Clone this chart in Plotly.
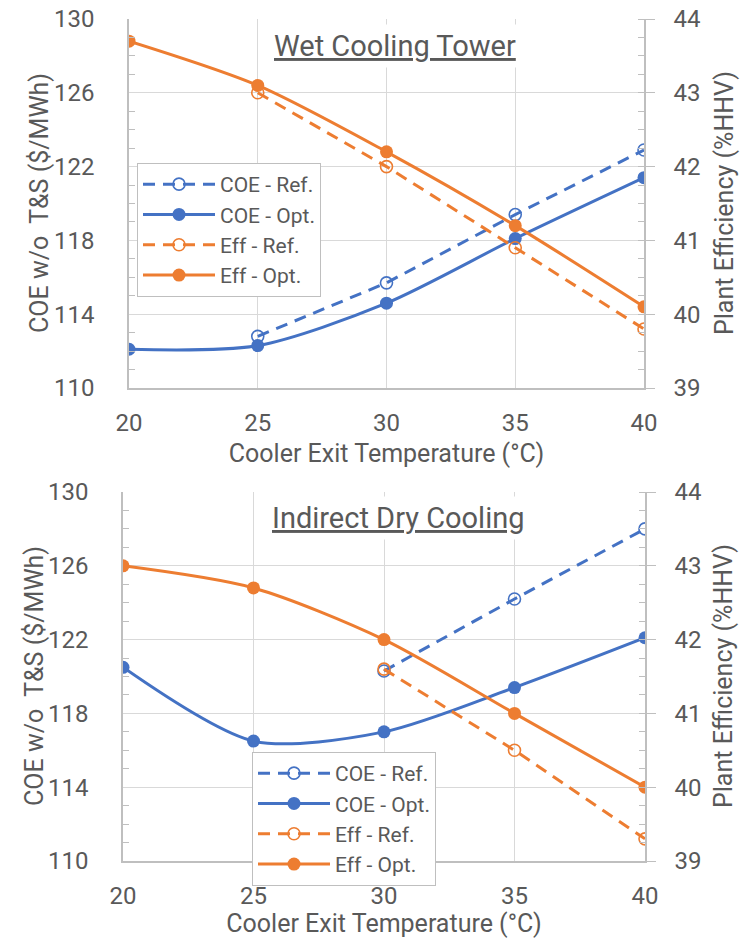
import plotly.graph_objects as go

# ---------------- data ----------------
temps = [20, 25, 30, 35, 40]

# Wet cooling tower
wet_coe_ref_x = [25, 30, 35, 40]
wet_coe_ref = [112.8, 115.7, 119.4, 122.9]
wet_coe_opt = [112.1, 112.3, 114.6, 118.1, 121.4]
wet_eff_ref_x = [25, 30, 35, 40]
wet_eff_ref = [43.0, 42.0, 40.9, 39.8]
wet_eff_opt = [43.7, 43.1, 42.2, 41.2, 40.1]

# Indirect dry cooling
dry_coe_ref_x = [30, 35, 40]
dry_coe_ref = [120.3, 124.2, 128.0]
dry_coe_opt = [120.5, 116.5, 117.0, 119.4, 122.1]
dry_eff_ref_x = [30, 35, 40]
dry_eff_ref = [41.6, 40.5, 39.3]
dry_eff_opt = [43.0, 42.7, 42.0, 41.0, 40.0]

titles = ["Wet Cooling Tower", "Indirect Dry Cooling"]
x_title = "Cooler Exit Temperature (°C)"
y_title_left = "COE w/o  T&S ($/MWh)"
y_title_right = "Plant Efficiency (%HHV)"
legend_names = ["COE - Ref.", "COE - Opt.", "Eff - Ref.", "Eff - Opt."]

# ---------------- style ----------------
BLUE = "#4472C4"
ORANGE = "#ED7D31"
GRID = "#D9D9D9"
AXIS = "#BFBFBF"
TXT = "#595959"
FONT = "Roboto"
W, H = 751, 938

fig = go.Figure()

panels = [
    dict(data=(wet_coe_ref_x, wet_coe_ref, wet_coe_opt, wet_eff_ref_x, wet_eff_ref, wet_eff_opt),
         xpx=(129, 644), ypx=(19, 388), legend="legend", ax=("x", "y", "y2")),
    dict(data=(dry_coe_ref_x, dry_coe_ref, dry_coe_opt, dry_eff_ref_x, dry_eff_ref, dry_eff_opt),
         xpx=(123, 645), ypx=(492, 861), legend="legend2", ax=("x2", "y3", "y4")),
]

for p in panels:
    cx, cy, oy = p["data"][0], p["data"][1], p["data"][2]
    ex, ey, eo = p["data"][3], p["data"][4], p["data"][5]
    xa, ya, ya2 = p["ax"]
    lg = p["legend"]
    fig.add_trace(go.Scatter(x=cx, y=cy, name=legend_names[0], mode="lines+markers",
                             line=dict(color=BLUE, width=3, dash="12px,8px"),
                             marker=dict(symbol="circle-open", size=12, color=BLUE, line=dict(width=1.6)),
                             xaxis=xa, yaxis=ya, legend=lg))
    fig.add_trace(go.Scatter(x=temps, y=oy, name=legend_names[1], mode="lines+markers",
                             line=dict(color=BLUE, width=3, shape="spline", smoothing=0.8),
                             marker=dict(symbol="circle", size=13, color=BLUE),
                             xaxis=xa, yaxis=ya, legend=lg))
    fig.add_trace(go.Scatter(x=ex, y=ey, name=legend_names[2], mode="lines+markers",
                             line=dict(color=ORANGE, width=3, dash="12px,8px"),
                             marker=dict(symbol="circle-open", size=12, color=ORANGE, line=dict(width=1.6)),
                             xaxis=xa, yaxis=ya2, legend=lg))
    fig.add_trace(go.Scatter(x=temps, y=eo, name=legend_names[3], mode="lines+markers",
                             line=dict(color=ORANGE, width=3, shape="spline", smoothing=0.8),
                             marker=dict(symbol="circle", size=13, color=ORANGE),
                             xaxis=xa, yaxis=ya2, legend=lg))

def dom_x(px):
    return [px[0] / W, px[1] / W]

def dom_y(px):
    return [1 - px[1] / H, 1 - px[0] / H]

tickfont = dict(family=FONT, size=24, color=TXT)

layout = dict(
    width=W, height=H, margin=dict(l=0, r=0, t=0, b=0, autoexpand=False),
    paper_bgcolor="white", plot_bgcolor="white",
    font=dict(family=FONT, color=TXT),
    showlegend=True,
)

for i, p in enumerate(panels):
    xa, ya, ya2 = p["ax"]
    xk = "xaxis" if xa == "x" else "xaxis" + xa[1:]
    yk = "yaxis" if ya == "y" else "yaxis" + ya[1:]
    yk2 = "yaxis" + ya2[1:]
    layout[xk] = dict(domain=dom_x(p["xpx"]), anchor=ya, range=[20, 40], dtick=5, tick0=20,
                      showgrid=True, gridcolor=GRID, gridwidth=1,
                      showline=True, linecolor=AXIS, linewidth=1.5,
                      ticks="", tickfont=tickfont, ticklabelstandoff=12,
                      zeroline=False, automargin=False,
                      title=dict(text=x_title, font=dict(family=FONT, size=25, color=TXT), standoff=9))
    layout[yk] = dict(domain=dom_y(p["ypx"]), anchor=xa, range=[110, 130], dtick=4, tick0=110,
                      showgrid=True, gridcolor=GRID, gridwidth=1,
                      showline=True, linecolor=AXIS, linewidth=1.5,
                      ticks="", tickfont=tickfont, ticklabelstandoff=28, zeroline=False,
                      automargin=False,
                      minor=dict(dtick=1, ticks="inside", ticklen=6, tickcolor=AXIS, showgrid=False))
    layout[yk2] = dict(overlaying=ya, side="right", anchor=xa, range=[39, 44], dtick=1, tick0=39,
                       showgrid=False, showline=True, linecolor=AXIS, linewidth=1.5,
                       ticks="outside", ticklen=9, tickcolor=AXIS, tickfont=tickfont,
                       ticklabelstandoff=14, zeroline=False, automargin=False,
                       minor=dict(dtick=0.25, ticks="inside", ticklen=6, tickcolor=AXIS, showgrid=False))

legend_common = dict(bgcolor="white", bordercolor=AXIS, borderwidth=1,
                     font=dict(family=FONT, size=21, color=TXT),
                     xanchor="left", yanchor="top", tracegroupgap=0, itemwidth=72)
layout["legend"] = dict(legend_common, x=137 / W, y=1 - 163 / H)
layout["legend2"] = dict(legend_common, x=252 / W, y=1 - 752 / H)

annotations = []
title_pos = [(395, 46), (398, 518)]
ytitle_left = [(40, 203), (34, 676)]
ytitle_right = [(725, 203), (723, 676)]
for i in range(2):
    annotations.append(dict(text="<u>" + titles[i] + "</u>", xref="paper", yref="paper",
                            x=title_pos[i][0] / W, y=1 - title_pos[i][1] / H,
                            xanchor="center", yanchor="middle", showarrow=False,
                            bgcolor="white", borderpad=4,
                            font=dict(family=FONT, size=29, color=TXT)))
    annotations.append(dict(text=y_title_left, xref="paper", yref="paper",
                            x=ytitle_left[i][0] / W, y=1 - ytitle_left[i][1] / H,
                            xanchor="center", yanchor="middle", showarrow=False, textangle=-90,
                            font=dict(family=FONT, size=25, color=TXT)))
    annotations.append(dict(text=y_title_right, xref="paper", yref="paper",
                            x=ytitle_right[i][0] / W, y=1 - ytitle_right[i][1] / H,
                            xanchor="center", yanchor="middle", showarrow=False, textangle=-90,
                            font=dict(family=FONT, size=25, color=TXT)))
layout["annotations"] = annotations

fig.update_layout(**layout)
fig.write_html("out.html", config={"displayModeBar": False},
               post_script="document.body.style.margin='0';")
